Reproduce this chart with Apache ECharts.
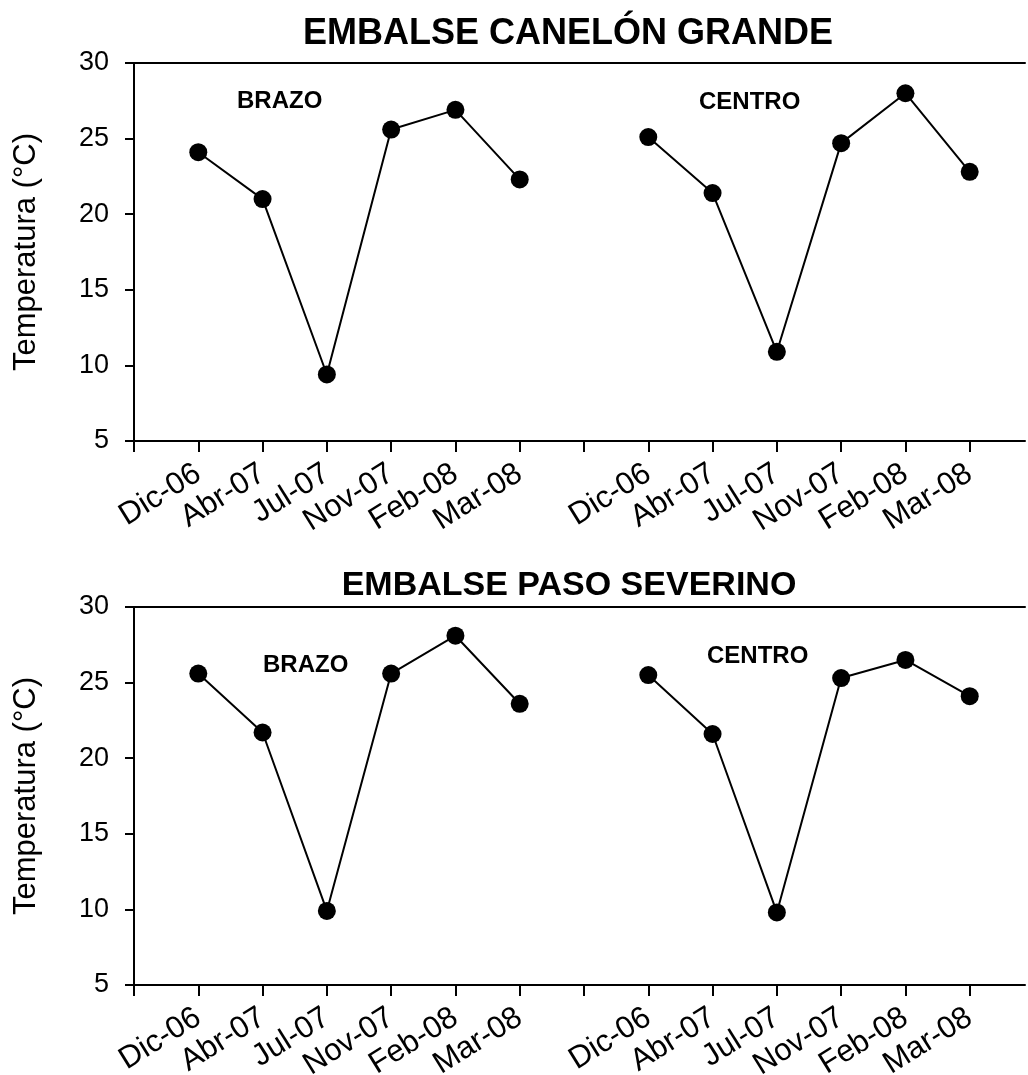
<!DOCTYPE html>
<html>
<head>
<meta charset="utf-8">
<script src="https://cdn.jsdelivr.net/npm/echarts@6/dist/echarts.min.js"></script>
<style>
  html, body { margin: 0; padding: 0; background: #fff; }
  #chart { width: 1028px; height: 1075px; }
</style>
</head>
<body>
<div id="chart"></div>
<script>
// Sampling campaigns (same sequence for each station)
const months = ['Dic-06', 'Abr-07', 'Jul-07', 'Nov-07', 'Feb-08', 'Mar-08'];

// Water temperature (°C), Embalse Canelón Grande
const canelonBrazo  = [24.1, 21.0, 9.4, 25.6, 26.9, 22.3];
const canelonCentro = [25.1, 21.4, 10.9, 24.7, 28.0, 22.8];

// Water temperature (°C), Embalse Paso Severino
const pasoBrazo  = [25.6, 21.7, 9.9, 25.6, 28.1, 23.6];
const pasoCentro = [25.5, 21.6, 9.8, 25.3, 26.5, 24.1];

const yTicks = [5, 10, 15, 20, 25, 30];
const panelTitles = ['EMBALSE CANELÓN GRANDE', 'EMBALSE PASO SEVERINO'];
const stationNames = ['BRAZO', 'CENTRO'];

const FONT = '"Liberation Sans", Arial, sans-serif';

// Slot index on the shared x axis: BRAZO occupies 1..6, an empty slot, CENTRO 8..13
const n = months.length;
const brazoSlot = i => i + 1;
const centroSlot = i => i + n + 2;
const tickSlots = [];
for (let k = 0; k <= 2 * n + 1; k++) tickSlots.push(k);
const labelSlots = months.map((m, i) => brazoSlot(i)).concat(months.map((m, i) => centroSlot(i)));
const slotLabel = v => (v <= n ? months[v - 1] : months[v - n - 2]);

const xMax = 13.86;

const chart = echarts.init(document.getElementById('chart'), null, { renderer: 'canvas' });

const grids = [
  { left: 134, top: 63, width: 891, height: 378, outerBoundsMode: 'none', containLabel: false },
  { left: 134, top: 607, width: 891, height: 378, outerBoundsMode: 'none', containLabel: false }
];

const xAxes = [];
const yAxes = [];
grids.forEach((g, gi) => {
  xAxes.push({
    type: 'value', gridIndex: gi, position: 'bottom', min: 0, max: xMax,
    axisLine: { show: true, onZero: false, lineStyle: { color: '#000', width: 2 } },
    axisTick: { show: true, inside: false, length: 11, customValues: tickSlots,
                lineStyle: { color: '#000', width: 2 } },
    axisLabel: { show: true, customValues: labelSlots, formatter: v => slotLabel(v),
                 rotate: 32, margin: 30, fontSize: 31, color: '#000', fontFamily: FONT },
    splitLine: { show: false }
  });
  // frame line along the top of the plot
  xAxes.push({
    type: 'value', gridIndex: gi, position: 'top', min: 0, max: xMax,
    axisLine: { show: true, onZero: false, lineStyle: { color: '#000', width: 2 } },
    axisTick: { show: false }, axisLabel: { show: false }, splitLine: { show: false }
  });
  yAxes.push({
    type: 'value', gridIndex: gi, min: yTicks[0], max: yTicks[yTicks.length - 1], interval: 5,
    name: 'Temperatura (°C)', nameLocation: 'middle', nameGap: 92, nameRotate: 90,
    nameTextStyle: { fontSize: 31, color: '#000', fontFamily: FONT },
    axisLine: { show: true, onZero: false, lineStyle: { color: '#000', width: 2 } },
    axisTick: { show: true, inside: false, length: 9, lineStyle: { color: '#000', width: 2 } },
    axisLabel: { margin: 25, fontSize: 27, color: '#000', fontFamily: FONT },
    splitLine: { show: false }
  });
});

function lineSeries(values, slotFn, gi) {
  return {
    type: 'line', xAxisIndex: gi * 2, yAxisIndex: gi,
    data: values.map((v, i) => [slotFn(i), v]),
    symbol: 'circle', symbolSize: 18,
    itemStyle: { color: '#000' },
    lineStyle: { color: '#000', width: 2 },
    animation: false, silent: true
  };
}

const series = [
  lineSeries(canelonBrazo, brazoSlot, 0),
  lineSeries(canelonCentro, centroSlot, 0),
  lineSeries(pasoBrazo, brazoSlot, 1),
  lineSeries(pasoCentro, centroSlot, 1)
];

const stationFont = 'bold 24px ' + FONT;

chart.setOption({
  backgroundColor: '#fff',
  animation: false,
  title: [
    { text: panelTitles[0], left: 563, top: 11, textAlign: 'center',
      textStyle: { fontSize: 36, fontWeight: 'bold', color: '#000', fontFamily: FONT } },
    { text: panelTitles[1], left: 564, top: 564, textAlign: 'center',
      textStyle: { fontSize: 34, fontWeight: 'bold', color: '#000', fontFamily: FONT } }
  ],
  grid: grids,
  xAxis: xAxes,
  yAxis: yAxes,
  series: series,
  graphic: [
    { type: 'text', left: 237, top: 89, style: { text: stationNames[0], font: stationFont, fill: '#000' } },
    { type: 'text', left: 699, top: 90, style: { text: stationNames[1], font: stationFont, fill: '#000' } },
    { type: 'text', left: 263, top: 653, style: { text: stationNames[0], font: stationFont, fill: '#000' } },
    { type: 'text', left: 707, top: 644, style: { text: stationNames[1], font: stationFont, fill: '#000' } }
  ]
});
</script>
</body>
</html>
